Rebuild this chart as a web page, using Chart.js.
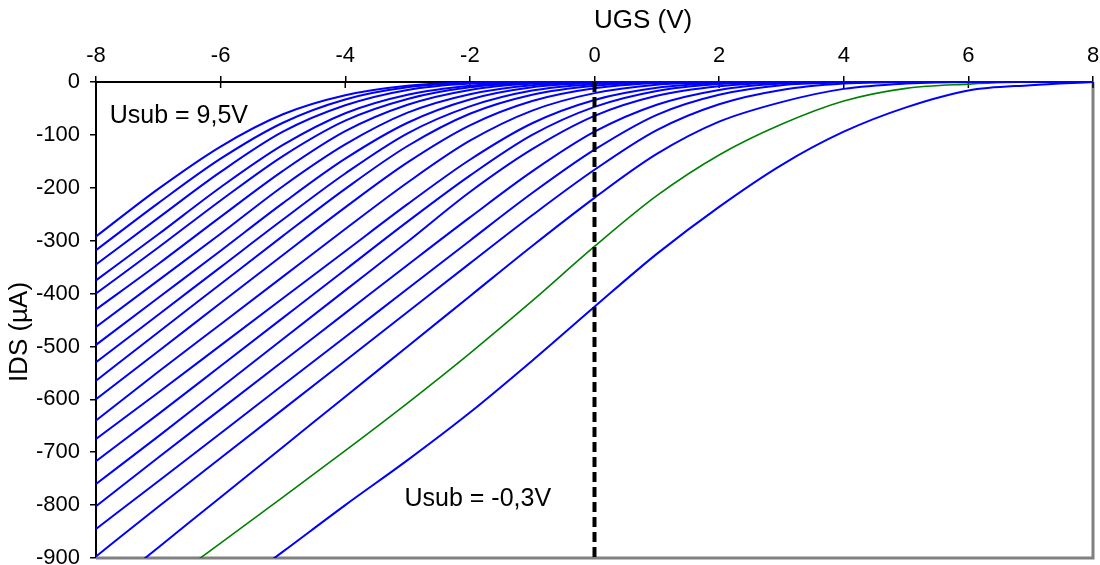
<!DOCTYPE html>
<html>
<head>
<meta charset="utf-8">
<script src="https://cdn.jsdelivr.net/npm/chart.js@4"></script>
<style>
  html, body { margin: 0; padding: 0; background: #fff; }
  #wrap { width: 1100px; height: 565px; }
</style>
</head>
<body>
<div id="wrap"><canvas id="idsChart"></canvas></div>
<script>
// UGS grid (V)
var ugs = [-8, -7, -6, -5, -4, -3, -2, -1, 0, 1, 2, 3, 4, 5, 6, 7, 8];

// substrate voltage of each curve
var usub = ['9,5', '9', '8,5', '8', '7,5', '7', '6,5', '6', '5,5', '5', '4,5', '4', '3,5', '3', '2,5', '2', '1,5', '1', '0,5', '0', '-0,3'];

// IDS (uA), one row per Usub, on the ugs grid
var ids95 = [-292, -202, -122, -61, -25, -7, -1, 0, 0, 0, 0, 0, 0, 0, 0, 0, 0];
var ids90 = [-318, -229, -145, -77, -33, -10, -2, 0, 0, 0, 0, 0, 0, 0, 0, 0, 0];
var ids85 = [-345, -257, -170, -94, -44, -15, -3, 0, 0, 0, 0, 0, 0, 0, 0, 0, 0];
var ids80 = [-375, -288, -199, -119, -59, -24, -7, -1, 0, 0, 0, 0, 0, 0, 0, 0, 0];
var ids75 = [-400, -313, -224, -140, -73, -32, -10, -2, 0, 0, 0, 0, 0, 0, 0, 0, 0];
var ids70 = [-430, -344, -255, -168, -93, -43, -15, -3, 0, 0, 0, 0, 0, 0, 0, 0, 0];
var ids65 = [-463, -375, -287, -197, -118, -58, -23, -6, -1, 0, 0, 0, 0, 0, 0, 0, 0];
var ids60 = [-497, -408, -319, -229, -145, -77, -33, -10, -2, 0, 0, 0, 0, 0, 0, 0, 0];
var ids55 = [-530, -440, -350, -260, -173, -97, -46, -16, -4, 0, 0, 0, 0, 0, 0, 0, 0];
var ids50 = [-565, -473, -382, -291, -202, -121, -60, -24, -7, -1, 0, 0, 0, 0, 0, 0, 0];
var ids45 = [-600, -509, -418, -327, -237, -152, -82, -36, -12, -2, 0, 0, 0, 0, 0, 0, 0];
var ids40 = [-640, -548, -458, -368, -278, -190, -111, -54, -21, -5, -1, 0, 0, 0, 0, 0, 0];
var ids35 = [-675, -587, -498, -409, -320, -231, -147, -78, -34, -11, -2, 0, 0, 0, 0, 0, 0];
var ids30 = [-717, -628, -537, -446, -355, -264, -177, -100, -47, -17, -4, 0, 0, 0, 0, 0, 0];
var ids25 = [-760, -670, -578, -486, -394, -302, -208, -127, -64, -26, -8, -1, 0, 0, 0, 0, 0];
var ids20 = [-802, -710, -619, -528, -437, -346, -256, -169, -94, -43, -15, -3, 0, 0, 0, 0, 0];
var ids15 = [-845, -755, -664, -573, -482, -391, -300, -210, -128, -62, -24, -6, -1, 0, 0, 0, 0];
var ids10 = [-897, -803, -711, -619, -527, -435, -343, -252, -166, -91, -42, -15, -3, 0, 0, 0, 0];
var ids05 = [-975, -880, -785, -690, -595, -500, -405, -310, -219, -136, -75, -38, -13, -3, 0, 0, 0];
var ids00 = [-1045, -958, -872, -785, -697, -607, -513, -414, -311, -215, -138, -80, -36, -12, -4, 0, 0];
var idsM03 = [-1150, -1063, -975, -888, -800, -715, -625, -527, -425, -325, -236, -157, -94, -48, -16, -6, 0];

var curves = [ids95, ids90, ids85, ids80, ids75, ids70, ids65, ids60, ids55, ids50, ids45,
              ids40, ids35, ids30, ids25, ids20, ids15, ids10, ids05, ids00, idsM03];

// vertical marker at UGS = 0
var markerX = [0, 0];
var markerY = [0, -900];

var fontName = 'Liberation Sans, Arial, sans-serif';

var datasets = [{
    label: 'UGS = 0',
    data: markerX.map(function (x, i) { return { x: x, y: markerY[i] }; }),
    borderColor: '#000',
    borderWidth: 4,
    borderDash: [10, 5],
    pointRadius: 0,
    order: 0
}];

curves.forEach(function (c, i) {
    var green = usub[i] === '0';
    datasets.push({
        label: 'Usub = ' + usub[i] + 'V',
        data: ugs.map(function (x, j) { return { x: x, y: c[j] }; }),
        borderColor: green ? '#008000' : '#0000ff',
        borderWidth: green ? 1.6 : 2,
        pointRadius: 0,
        cubicInterpolationMode: 'monotone',
        clip: { left: 0, top: 4, right: 2, bottom: 0 },
        order: 1
    });
});

var extras = {
    id: 'extras',
    beforeDatasetsDraw: function (chart) {
        var a = chart.chartArea, ctx = chart.ctx, xs = chart.scales.x;
        ctx.save();
        // grey frame on right and bottom
        ctx.strokeStyle = '#808080';
        ctx.lineWidth = 3;
        ctx.beginPath();
        ctx.moveTo(a.right, a.top);
        ctx.lineTo(a.right, a.bottom);
        ctx.lineTo(a.left, a.bottom);
        ctx.stroke();
        // x ticks cross the axis
        ctx.strokeStyle = '#000';
        ctx.lineWidth = 1.5;
        xs.ticks.forEach(function (t) {
            var px = xs.getPixelForValue(t.value);
            ctx.beginPath();
            ctx.moveTo(px, a.top);
            ctx.lineTo(px, a.top + 6);
            ctx.stroke();
        });
        ctx.restore();
    },
    afterDraw: function (chart) {
        var ctx = chart.ctx, xs = chart.scales.x, ys = chart.scales.y;
        ctx.save();
        ctx.fillStyle = '#000';
        ctx.textBaseline = 'middle';
        ctx.font = '26px ' + fontName;
        ctx.textAlign = 'center';
        ctx.fillText('UGS (V)', xs.getPixelForValue(0.78), 21);
        ctx.save();
        ctx.translate(20, 332);
        ctx.rotate(-Math.PI / 2);
        ctx.fillText('IDS (µA)', 0, 0);
        ctx.restore();
        ctx.font = '25px ' + fontName;
        ctx.textAlign = 'left';
        ctx.fillText('Usub = 9,5V', xs.getPixelForValue(-7.78), ys.getPixelForValue(-64));
        ctx.fillText('Usub = -0,3V', xs.getPixelForValue(-3.05), ys.getPixelForValue(-789));
        ctx.restore();
    }
};

var idsChart = new Chart(document.getElementById('idsChart').getContext('2d'), {
    type: 'line',
    data: { datasets: datasets },
    plugins: [extras],
    options: {
        responsive: true,
        maintainAspectRatio: false,
        animation: false,
        layout: { padding: { top: 0, left: 0, right: 7, bottom: 7 } },
        plugins: {
            legend: { display: false },
            tooltip: { enabled: false }
        },
        scales: {
            x: {
                type: 'linear',
                position: 'top',
                min: -8,
                max: 8,
                ticks: { stepSize: 2, color: '#000', font: { family: fontName, size: 22 }, padding: 7, maxRotation: 0 },
                grid: { drawOnChartArea: false, tickLength: 6, color: '#000', lineWidth: 1.5 },
                border: { color: '#000', width: 2 },
                afterFit: function (s) { s.height = 82; s.paddingLeft = 0; s.paddingRight = 0; }
            },
            y: {
                type: 'linear',
                min: -900,
                max: 0,
                ticks: { stepSize: 100, color: '#000', font: { family: fontName, size: 22 }, padding: 10 },
                grid: { drawOnChartArea: false, tickLength: 6, color: '#000', lineWidth: 1.5 },
                border: { color: '#000', width: 2 },
                afterFit: function (s) { s.width = 96; s.paddingTop = 0; s.paddingBottom = 0; }
            }
        }
    }
});
</script>
</body>
</html>
